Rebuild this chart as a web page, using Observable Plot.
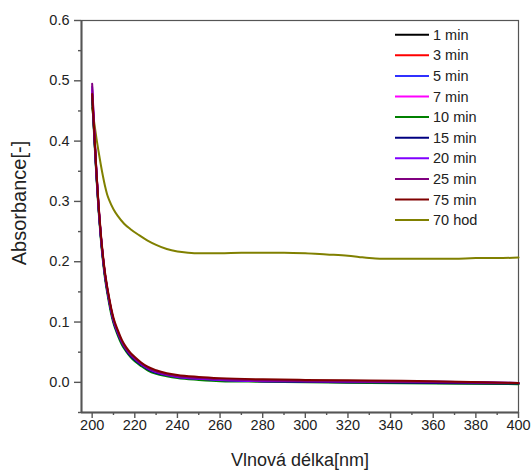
<!DOCTYPE html>
<html><head><meta charset="utf-8">
<script src="https://cdn.jsdelivr.net/npm/d3@7"></script>
<script src="https://cdn.jsdelivr.net/npm/@observablehq/plot@0.6"></script>
<style>body{margin:0;background:#fff}</style>
</head><body><div id="chart"></div>
<script>
// wavelengths (nm) for the short-time series
const wavelengths = [200,201,202,203,204,205,206,207,208,209,210,212,214,216,218,220,223,226,230,235,240,250,260,280,300,330,360,400];
const min1  = [0.475,0.410,0.345,0.290,0.245,0.208,0.178,0.155,0.135,0.117,0.102,0.082,0.066,0.054,0.045,0.038,0.030,0.023,0.017,0.012,0.009,0.006,0.004,0.002,0.001,0.000,-0.001,-0.002];
const min3  = [0.478,0.412,0.348,0.292,0.247,0.210,0.180,0.157,0.137,0.119,0.104,0.083,0.067,0.055,0.046,0.039,0.031,0.024,0.018,0.013,0.010,0.007,0.005,0.003,0.002,0.001,0.000,-0.002];
const min5  = [0.480,0.410,0.346,0.290,0.245,0.208,0.178,0.155,0.135,0.117,0.102,0.082,0.066,0.054,0.045,0.038,0.029,0.022,0.016,0.012,0.009,0.006,0.004,0.002,0.002,0.001,0.001,-0.002];
const min7  = [0.485,0.413,0.347,0.291,0.246,0.209,0.179,0.156,0.136,0.118,0.103,0.083,0.066,0.054,0.045,0.038,0.030,0.023,0.017,0.012,0.009,0.006,0.004,0.002,0.001,0.000,0.000,-0.002];
const min10 = [0.470,0.405,0.340,0.285,0.240,0.203,0.173,0.150,0.130,0.112,0.098,0.078,0.062,0.051,0.042,0.035,0.027,0.020,0.014,0.010,0.007,0.004,0.002,0.001,0.000,-0.001,-0.002,-0.003];
const min15 = [0.476,0.409,0.344,0.289,0.244,0.207,0.177,0.154,0.134,0.116,0.101,0.081,0.065,0.053,0.044,0.037,0.029,0.022,0.016,0.012,0.009,0.006,0.004,0.002,0.001,0.000,-0.001,-0.002];
const min20 = [0.490,0.415,0.348,0.292,0.246,0.209,0.179,0.156,0.136,0.118,0.103,0.083,0.067,0.055,0.046,0.039,0.030,0.023,0.017,0.012,0.009,0.006,0.004,0.002,0.002,0.001,0.001,-0.001];
const min25 = [0.495,0.418,0.350,0.293,0.247,0.210,0.180,0.157,0.137,0.119,0.104,0.084,0.067,0.055,0.046,0.039,0.031,0.024,0.018,0.013,0.010,0.007,0.005,0.003,0.002,0.001,0.000,-0.001];
const min75 = [0.478,0.414,0.350,0.295,0.250,0.213,0.183,0.160,0.140,0.122,0.107,0.087,0.070,0.058,0.049,0.042,0.033,0.026,0.020,0.015,0.012,0.009,0.007,0.005,0.004,0.003,0.002,-0.001];
// 70 hours series
const wavelengths70 = [200,201,202,203,204,205,206,207,208,210,212,215,218,222,226,230,235,240,245,250,260,270,280,290,300,310,320,325,330,335,340,350,360,370,380,390,400];
const hod70 = [0.455,0.430,0.405,0.383,0.362,0.343,0.326,0.312,0.302,0.287,0.276,0.263,0.254,0.244,0.235,0.228,0.221,0.217,0.215,0.214,0.214,0.215,0.215,0.215,0.214,0.212,0.210,0.208,0.206,0.205,0.205,0.205,0.205,0.205,0.206,0.206,0.207];

const seriesNames  = ["1 min","3 min","5 min","7 min","10 min","15 min","20 min","25 min","75 min","70 hod"];
const seriesColors = ["#000000","#ff0000","#3030ff","#ff00ff","#008000","#000080","#8000ff","#800080","#800000","#808000"];
const seriesValues = [min1,min3,min5,min7,min10,min15,min20,min25,min75,hod70];

const xMajor = [200,220,240,260,280,300,320,340,360,380,400];
const xMinor = [210,230,250,270,290,310,330,350,370,390];
const yMajor = [0,0.1,0.2,0.3,0.4,0.5,0.6];
const yMinor = [-0.05,0.05,0.15,0.25,0.35,0.45,0.55];

const table = [];
seriesNames.forEach((name, i) => {
  const wl = name === "70 hod" ? wavelengths70 : wavelengths;
  seriesValues[i].forEach((v, j) => table.push({series: name, wl: wl[j], a: v}));
});
// draw the 70 hod line first so the bundle sits on top
const ordered = [...table.filter(d => d.series === "70 hod"), ...table.filter(d => d.series !== "70 hod")];

const chart = Plot.plot({
  width: 532, height: 473,
  marginLeft: 81, marginRight: 14, marginTop: 20, marginBottom: 61,
  style: {fontFamily: "'Liberation Sans', Arial, sans-serif", fontSize: "14.5px", color: "#222", background: "#fff"},
  x: {domain: [195, 400]},
  y: {domain: [-0.05, 0.6]},
  color: {domain: seriesNames, range: seriesColors},
  marks: [
    Plot.frame({stroke: "#555", strokeWidth: 1.2}),
    Plot.line(ordered, {x: "wl", y: "a", z: "series", stroke: "series", strokeWidth: 2, curve: "monotone-x"}),
    Plot.ruleX([195], {stroke: "#555", strokeWidth: 2}),
    Plot.ruleY([-0.05], {stroke: "#555", strokeWidth: 2}),
    Plot.axisX(xMajor, {tickSize: 6, tickPadding: 1, label: null, stroke: "#555", strokeWidth: 1.4}),
    Plot.axisX(xMinor, {tickSize: 3, tickFormat: () => "", label: null, stroke: "#555", strokeWidth: 1.4}),
    Plot.axisY(yMajor, {tickSize: 7, tickPadding: 5, tickFormat: d3.format(".1f"), label: null, stroke: "#555", strokeWidth: 1.4}),
    Plot.axisY(yMinor, {tickSize: 3, tickFormat: () => "", label: null, stroke: "#555", strokeWidth: 1.4})
  ]
});

const svg = d3.select(chart);
// axis titles
svg.append("text").attr("x", 300).attr("y", 466).attr("text-anchor", "middle")
  .attr("font-size", "18px").attr("fill", "#222").text("Vlnová délka[nm]");
svg.append("text").attr("transform", "translate(26,203) rotate(-90)").attr("text-anchor", "middle")
  .attr("font-size", "20px").attr("fill", "#222").text("Absorbance[-]");
// legend
const lg = svg.append("g");
seriesNames.forEach((name, i) => {
  const y = 34.7 + i * 20.6;
  lg.append("line").attr("x1", 395).attr("x2", 429).attr("y1", y).attr("y2", y)
    .attr("stroke", seriesColors[i]).attr("stroke-width", 2);
  lg.append("text").attr("x", 433).attr("y", y).attr("dy", "0.35em").attr("text-anchor", "start")
    .attr("font-size", "14.5px").attr("fill", "#222").text(name);
});

document.getElementById("chart").appendChild(chart);
</script>
</body></html>
